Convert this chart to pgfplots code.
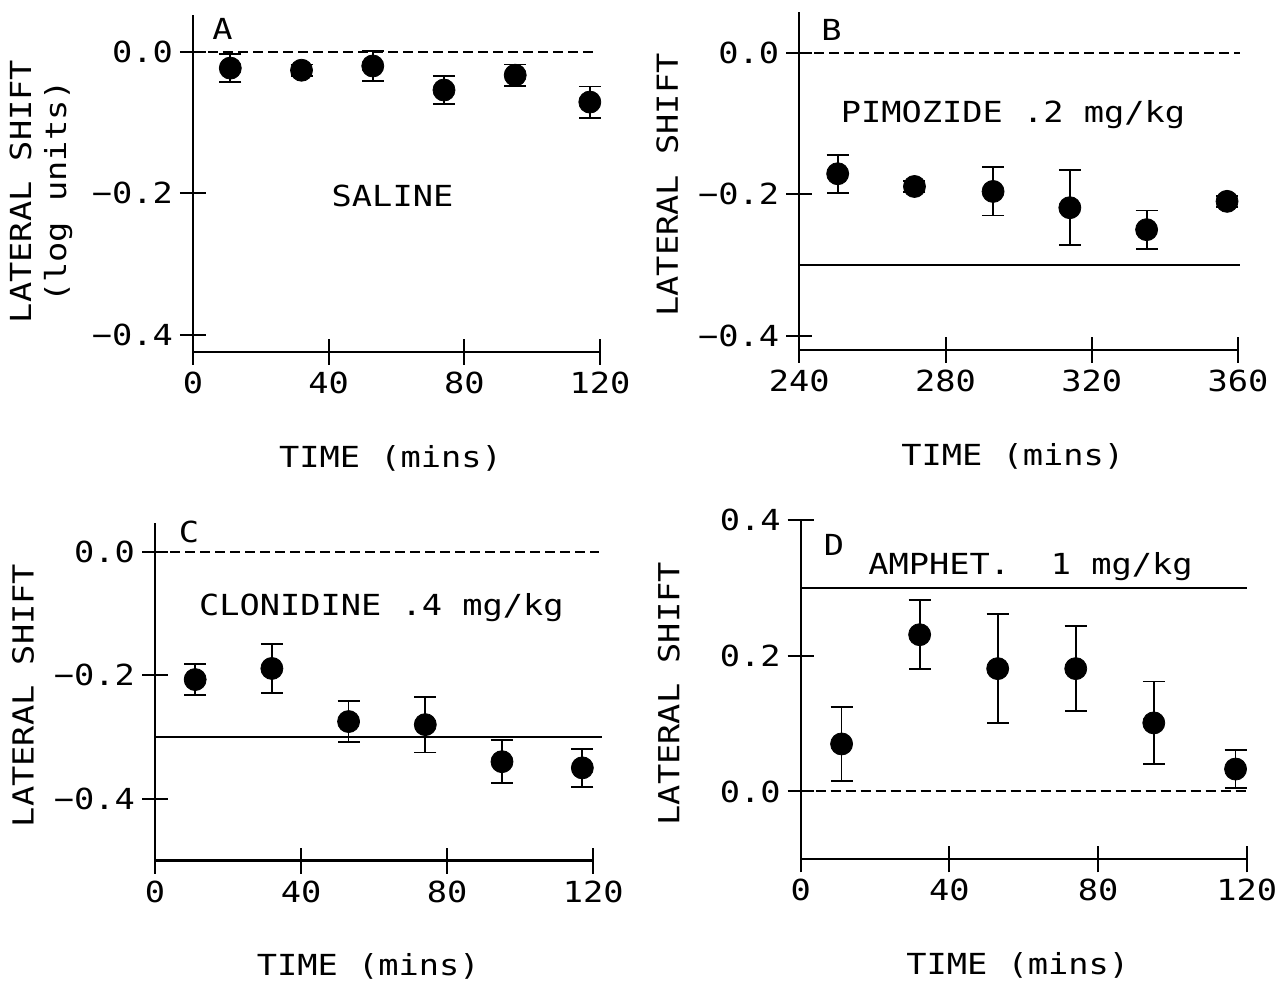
\documentclass[border=0pt]{standalone}
\usepackage{fontspec}
\setmainfont{DejaVu Sans Mono}[FakeStretch=1.16]
\usepackage{pgfplots}
\pgfplotsset{compat=1.18}

\pgfplotsset{
  panel/.style={
    scale only axis, axis lines=left, axis line style={-, line width=1.1pt},
    enlargelimits=false, clip=false,
    tick align=center, major tick length=13pt,
    tick style={line width=1pt, black},
    xtick={0,40,80,120}, xticklabels={0,40,80,120},
    xlabel={TIME (mins)}, ylabel={LATERAL SHIFT},
    every axis x label/.style={at={(axis description cs:0.5,0)}, anchor=center, xshift=-3pt, yshift=-53pt},
    every axis y label/.style={at={(axis description cs:0,0.5)}, anchor=center, xshift=-66pt, yshift=-2pt, rotate=90},
  },
  pts/.style={black, only marks, mark=*, mark size=5.5pt,
    error bars/.cd, y dir=both, y explicit,
    error bar style={line width=0.9pt, black},
    error mark options={rotate=90, mark size=5.5pt, line width=0.9pt, black}},
  zero/.style={black, line width=1pt, dash pattern=on 5pt off 2.5pt, no marks},
  ref/.style={black, line width=1.3pt, no marks},
}

\begin{document}
\begin{tikzpicture}[font=\fontsize{14.5}{17.5}\selectfont]
\path[use as bounding box] (0,0) rectangle (642pt,490pt);

% A: saline
\begin{axis}[panel, at={(96.5pt,314pt)}, anchor=south west,
  width=203.5pt, height=168.5pt,
  xmin=0, xmax=120, ymin=-0.424, ymax=0.052,
  ytick={-0.4,-0.2,0}, yticklabels={−0.4,−0.2,0.0},
  ylabel={LATERAL SHIFT\\(log units)}, ylabel style={align=center, yshift=10pt, xshift=-2pt}]
\addplot[zero] coordinates {(0,0) (119,0)};
\addplot[pts] coordinates {
  (11,-0.023) +- (0,0.020)
  (32,-0.026) +- (0,0.008)
  (53,-0.020) +- (0,0.021)
  (74,-0.054) +- (0,0.020)
  (95,-0.033) +- (0,0.015)
  (117,-0.071) +- (0,0.022)};
\end{axis}

% B: pimozide
\begin{axis}[panel, at={(399.65pt,315pt)}, anchor=south west,
  width=219.35pt, height=169pt,
  xmin=240, xmax=360, ymin=-0.420, ymax=0.0575,
  xtick={240,280,320,360}, xticklabels={240,280,320,360},
  ytick={-0.4,-0.2,0}, yticklabels={−0.4,−0.2,0.0}]
\addplot[zero] coordinates {(240,0) (360.5,0)};
\addplot[ref] coordinates {(240,-0.3) (360.5,-0.3)};
\addplot[pts] coordinates {
  (250.5,-0.171) +- (0,0.027)
  (271.5,-0.189) +- (0,0.008)
  (293,-0.196) +- (0,0.034)
  (314,-0.219) +- (0,0.053)
  (335,-0.250) +- (0,0.027)
  (357,-0.210) +- (0,0.008)};
\end{axis}

% C: clonidine
\begin{axis}[panel, at={(77.5pt,59.75pt)}, anchor=south west,
  width=219.15pt, height=168.9pt,
  xmin=0, xmax=120, ymin=-0.5, ymax=0.047,
  ytick={-0.4,-0.2,0}, yticklabels={−0.4,−0.2,0.0}]
\addplot[zero] coordinates {(0,0) (121.5,0)};
\addplot[ref] coordinates {(0,-0.3) (122.5,-0.3)};
\addplot[pts] coordinates {
  (11,-0.207) +- (0,0.025)
  (32,-0.189) +- (0,0.040)
  (53,-0.275) +- (0,0.033)
  (74,-0.280) +- (0,0.045)
  (95,-0.340) +- (0,0.035)
  (117,-0.350) +- (0,0.031)};
\end{axis}

% D: amphetamine
\begin{axis}[panel, at={(400.35pt,60.35pt)}, anchor=south west,
  width=223pt, height=169.65pt,
  xmin=0, xmax=120, ymin=-0.1, ymax=0.4,
  ytick={0,0.2,0.4}, yticklabels={0.0,0.2,0.4}]
\addplot[zero] coordinates {(0,0) (120,0)};
\addplot[ref] coordinates {(0,0.3) (120,0.3)};
\addplot[pts] coordinates {
  (11,0.070) +- (0,0.055)
  (32,0.231) +- (0,0.051)
  (53,0.181) +- (0,0.080)
  (74,0.181) +- (0,0.063)
  (95,0.101) +- (0,0.061)
  (117,0.033) +- (0,0.028)};
\end{axis}

% panel letters and treatment names
\node at (111.25pt,475.75pt) {A};
\node at (415.75pt,475pt) {B};
\node at (94.5pt,224pt) {C};
\node at (417pt,217.5pt) {D};
\node[anchor=base] at (196.25pt,386.5pt) {SALINE};
\node[anchor=base] at (506.5pt,428.5pt) {PIMOZIDE .2 mg/kg};
\node[anchor=base] at (190.75pt,182pt) {CLONIDINE .4 mg/kg};
\node[anchor=base] at (515.25pt,202.5pt) {AMPHET.\ \ 1 mg/kg};
\end{tikzpicture}
\end{document}
